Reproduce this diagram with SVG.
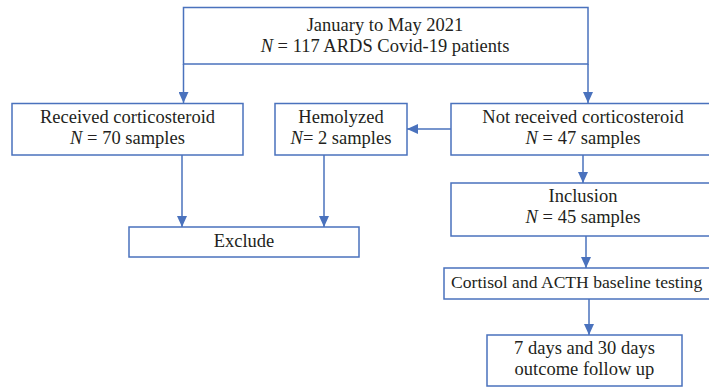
<svg xmlns="http://www.w3.org/2000/svg" width="709" height="387" viewBox="0 0 709 387">
<defs>
<marker id="ah" markerWidth="12" markerHeight="10" refX="11" refY="5" orient="auto" markerUnits="userSpaceOnUse">
<path d="M0,0 L11,5 L0,10 Z" fill="#4a72bd"/>
</marker>
<style>
.box{fill:#fff;stroke:#4a72bd;stroke-width:1.5}
.t{font-family:"Liberation Serif","Times New Roman",serif;font-size:18.5px;fill:#231f20;text-anchor:middle}
.i{font-style:italic}
.c{fill:none;stroke:#4a72bd;stroke-width:1.5;marker-end:url(#ah)}
</style>
</defs>
<rect width="709" height="387" fill="#fff"/>
<g id="connectors">
<line class="c" x1="183.5" y1="64" x2="183.5" y2="103"/>
<line class="c" x1="588" y1="64" x2="588" y2="103"/>
<line class="c" x1="451" y1="129" x2="407" y2="129"/>
<line class="c" x1="182" y1="155" x2="182" y2="227"/>
<line class="c" x1="324" y1="155" x2="324" y2="227"/>
<line class="c" x1="583" y1="155" x2="583" y2="183"/>
<line class="c" x1="586" y1="236" x2="586" y2="268"/>
<line class="c" x1="589" y1="299" x2="589" y2="335"/>
</g>
<g id="top">
<rect class="box" x="183.5" y="7.5" width="404.5" height="56.5"/>
<text class="t" x="385" y="31">January to May 2021</text>
<text class="t" x="385" y="52"><tspan class="i">N</tspan> = 117 ARDS Covid-19 patients</text>
</g>
<g id="received">
<rect class="box" x="12" y="103.5" width="231" height="51.5"/>
<text class="t" x="127.5" y="123">Received corticosteroid</text>
<text class="t" x="127.5" y="144"><tspan class="i">N</tspan> = 70 samples</text>
</g>
<g id="hemolyzed">
<rect class="box" x="275" y="103.5" width="132" height="51.5"/>
<text class="t" x="341" y="123">Hemolyzed</text>
<text class="t" x="341" y="144"><tspan class="i">N</tspan>= 2 samples</text>
</g>
<g id="notreceived">
<rect class="box" x="451" y="103.5" width="264" height="51.5"/>
<text class="t" x="583" y="123">Not received corticosteroid</text>
<text class="t" x="583" y="144"><tspan class="i">N</tspan> = 47 samples</text>
</g>
<g id="exclude">
<rect class="box" x="129" y="227" width="230" height="30"/>
<text class="t" x="244" y="247">Exclude</text>
</g>
<g id="inclusion">
<rect class="box" x="451" y="183" width="264" height="53"/>
<text class="t" x="583" y="202">Inclusion</text>
<text class="t" x="583" y="223"><tspan class="i">N</tspan> = 45 samples</text>
</g>
<g id="cortisol">
<rect class="box" x="444" y="268" width="290" height="31"/>
<text class="t" x="451" y="288" style="text-anchor:start;font-size:17.6px">Cortisol and ACTH baseline testing</text>
</g>
<g id="followup">
<rect class="box" x="487" y="335" width="195" height="51"/>
<text class="t" x="584.5" y="354">7 days and 30 days</text>
<text class="t" x="584.5" y="375">outcome follow up</text>
</g>
</svg>
